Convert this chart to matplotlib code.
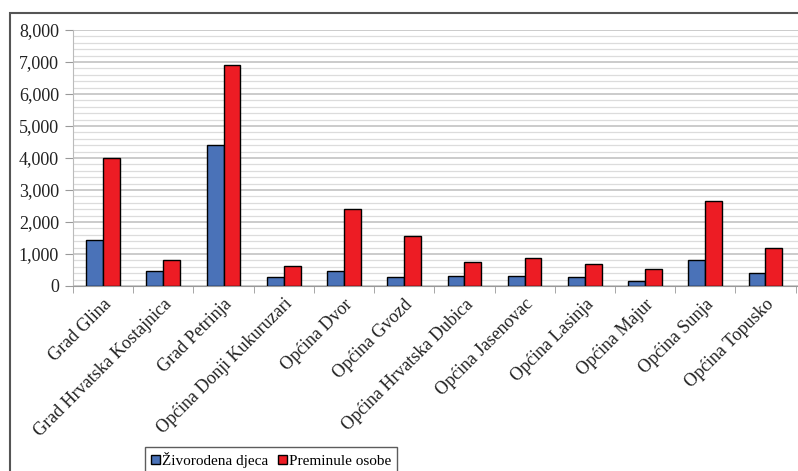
import numpy as np
import matplotlib.pyplot as plt
from matplotlib.ticker import MultipleLocator, FuncFormatter
from matplotlib.patches import Rectangle

plt.rcParams['font.family'] = ['Liberation Serif', 'DejaVu Serif']

# data
places = ['Grad Glina', 'Grad Hrvatska Kostajnica', 'Grad Petrinja',
          'Općina Donji Kukuruzari', 'Općina Dvor', 'Općina Gvozd',
          'Općina Hrvatska Dubica', 'Općina Jasenovac', 'Općina Lasinja',
          'Općina Majur', 'Općina Sunja', 'Općina Topusko']
born = [1430, 470, 4400, 290, 470, 290, 310, 310, 270, 160, 820, 420]
died = [4010, 810, 6900, 635, 2400, 1570, 760, 885, 700, 540, 2660, 1200]
series_names = ['Živorodena djeca', 'Preminule osobe']

fig = plt.figure(figsize=(7.98, 4.71), dpi=100)
ax = fig.add_axes([73 / 798, 185 / 471, 1 - 73 / 798, 256 / 471])

x = np.arange(len(places))
w = 0.28
ax.bar(x - w / 2, born, w, color='#4a72b8', edgecolor='black', linewidth=1,
       label=series_names[0], zorder=3)
ax.bar(x + w / 2, died, w, color='#ed1c24', edgecolor='black', linewidth=1,
       label=series_names[1], zorder=3)

ax.set_xlim(-0.5, len(places) - 0.5 + 0.04)
ax.set_ylim(0, 8000)
ax.yaxis.set_major_locator(MultipleLocator(1000))
ax.yaxis.set_minor_locator(MultipleLocator(200))
ax.yaxis.set_major_formatter(FuncFormatter(lambda v, p: f'{int(v):,}'))
ax.grid(axis='y', which='major', color='#bdbdbd', linewidth=1.1, zorder=0)
ax.grid(axis='y', which='minor', color='#dcdcdc', linewidth=0.9, zorder=0)

ax.set_xticks(x)
ax.set_xticklabels(places, rotation=45, ha='right', rotation_mode='anchor',
                   fontsize=13, color='#222222')
ax.set_xticks(np.arange(len(places) + 1) - 0.5, minor=True)
ax.tick_params(axis='x', which='major', length=0, pad=7)
ax.tick_params(axis='x', which='minor', length=5, color='#999999')
ax.tick_params(axis='y', which='major', length=6, color='#999999',
               labelsize=13, labelcolor='#222222', pad=4)
ax.tick_params(axis='y', which='minor', length=0)

for s in ['top', 'right']:
    ax.spines[s].set_visible(False)
ax.spines['left'].set_color('#bbbbbb')
ax.spines['bottom'].set_color('#999999')

fig.legend(loc='center', bbox_to_anchor=(271 / 798, 1 - 460 / 471), ncol=2,
           fontsize=11, frameon=True, fancybox=False, edgecolor='#333333',
           handlelength=0.6, handleheight=0.6, handletextpad=0.15,
           columnspacing=0.6, borderpad=0.35)

fig.patches.append(Rectangle((10 / 798, -0.1), 1.1, 1 - 13 / 471 + 0.1,
                             transform=fig.transFigure, fill=False,
                             edgecolor='#555555', linewidth=1.5))

fig.savefig('out.png', dpi=100)
